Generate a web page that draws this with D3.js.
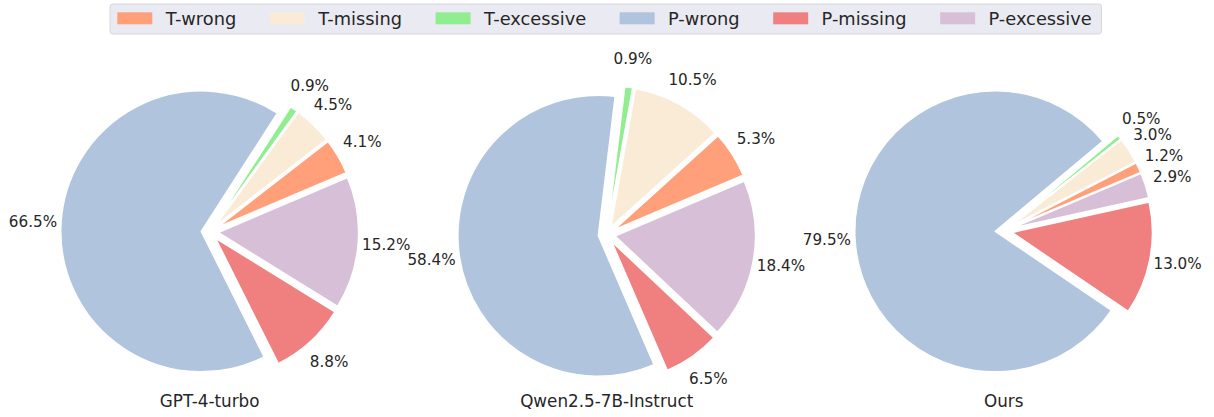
<!DOCTYPE html>
<html>
<head>
<meta charset="utf-8">
<script src="https://cdn.jsdelivr.net/npm/d3@7"></script>
<style>
  html, body { margin: 0; padding: 0; background: #fff; }
  svg { display: block; font-family: "DejaVu Sans", sans-serif; }
</style>
</head>
<body>
<div id="chart"></div>
<script>
// data
const categories = ["T-wrong", "T-missing", "T-excessive", "P-wrong", "P-missing", "P-excessive"];
const models = ["GPT-4-turbo", "Qwen2.5-7B-Instruct", "Ours"];
const gptValues = [4.1, 4.5, 0.9, 66.5, 8.8, 15.2];
const qwenValues = [5.3, 10.5, 0.9, 58.4, 6.5, 18.4];
const oursValues = [1.2, 3.0, 0.5, 79.5, 13.0, 2.9];
const colors = ["#FFA07A", "#FAEBD7", "#90EE90", "#B0C4DE", "#F08080", "#D8BFD8"];

const width = 1214, height = 417;
const radius = 140.5;
const explode = 0.06;
const pctDist = 1.2;
const textColor = "#262626";

// pie centers (layout)
const panels = [
  { name: models[0], values: gptValues, cx: 209.7, cy: 231.8 },
  { name: models[1], values: qwenValues, cx: 606.7, cy: 234.5 },
  { name: models[2], values: oursValues, cx: 1003.7, cy: 230.9 }
];

const svg = d3.select("#chart").append("svg")
  .attr("width", width)
  .attr("height", height);

// matplotlib-like: start at 23deg, counterclockwise
const start = Math.PI / 2 - 23 * Math.PI / 180;
const pie = d3.pie()
  .sort(null)
  .value(d => d)
  .startAngle(start)
  .endAngle(start - 2 * Math.PI);

const arc = d3.arc().innerRadius(0).outerRadius(radius);

panels.forEach(p => {
  const g = svg.append("g")
    .attr("transform", `translate(${p.cx},${p.cy})`);

  const arcs = pie(p.values);

  g.selectAll("path")
    .data(arcs)
    .join("path")
    .attr("d", arc)
    .attr("fill", (d, i) => colors[i])
    .attr("stroke", "#fff")
    .attr("stroke-width", 1.5)
    .attr("stroke-linejoin", "round")
    .attr("transform", d => {
      const a = (d.startAngle + d.endAngle) / 2;
      return `translate(${Math.sin(a) * explode * radius},${-Math.cos(a) * explode * radius})`;
    });

  g.selectAll("text.pct")
    .data(arcs)
    .join("text")
    .attr("class", "pct")
    .attr("x", d => Math.sin((d.startAngle + d.endAngle) / 2) * (pctDist + explode) * radius)
    .attr("y", d => -Math.cos((d.startAngle + d.endAngle) / 2) * (pctDist + explode) * radius)
    .attr("text-anchor", "middle")
    .attr("dominant-baseline", "central")
    .attr("font-size", 15.2)
    .attr("fill", textColor)
    .text(d => d.data.toFixed(1) + "%");

  svg.append("text")
    .attr("x", p.cx)
    .attr("y", 407)
    .attr("text-anchor", "middle")
    .attr("font-size", 16.8)
    .attr("fill", textColor)
    .text(p.name);
});

// legend
const legend = svg.append("g");
legend.append("rect")
  .attr("x", 110)
  .attr("y", 4)
  .attr("width", 991.5)
  .attr("height", 30)
  .attr("rx", 3)
  .attr("fill", "#eaeaf2")
  .attr("stroke", "#d6d6dc")
  .attr("stroke-width", 1);

let lx = 117.3;
categories.forEach((c, i) => {
  legend.append("rect")
    .attr("x", lx)
    .attr("y", 12.3)
    .attr("width", 35)
    .attr("height", 12)
    .attr("fill", colors[i]);
  const t = legend.append("text")
    .attr("x", lx + 48.4)
    .attr("y", 18.8)
    .attr("dominant-baseline", "central")
    .attr("font-size", 17.8)
    .attr("fill", textColor)
    .text(c);
  lx = lx + 48.4 + t.node().getComputedTextLength() + 33.5;
});
</script>
</body>
</html>
